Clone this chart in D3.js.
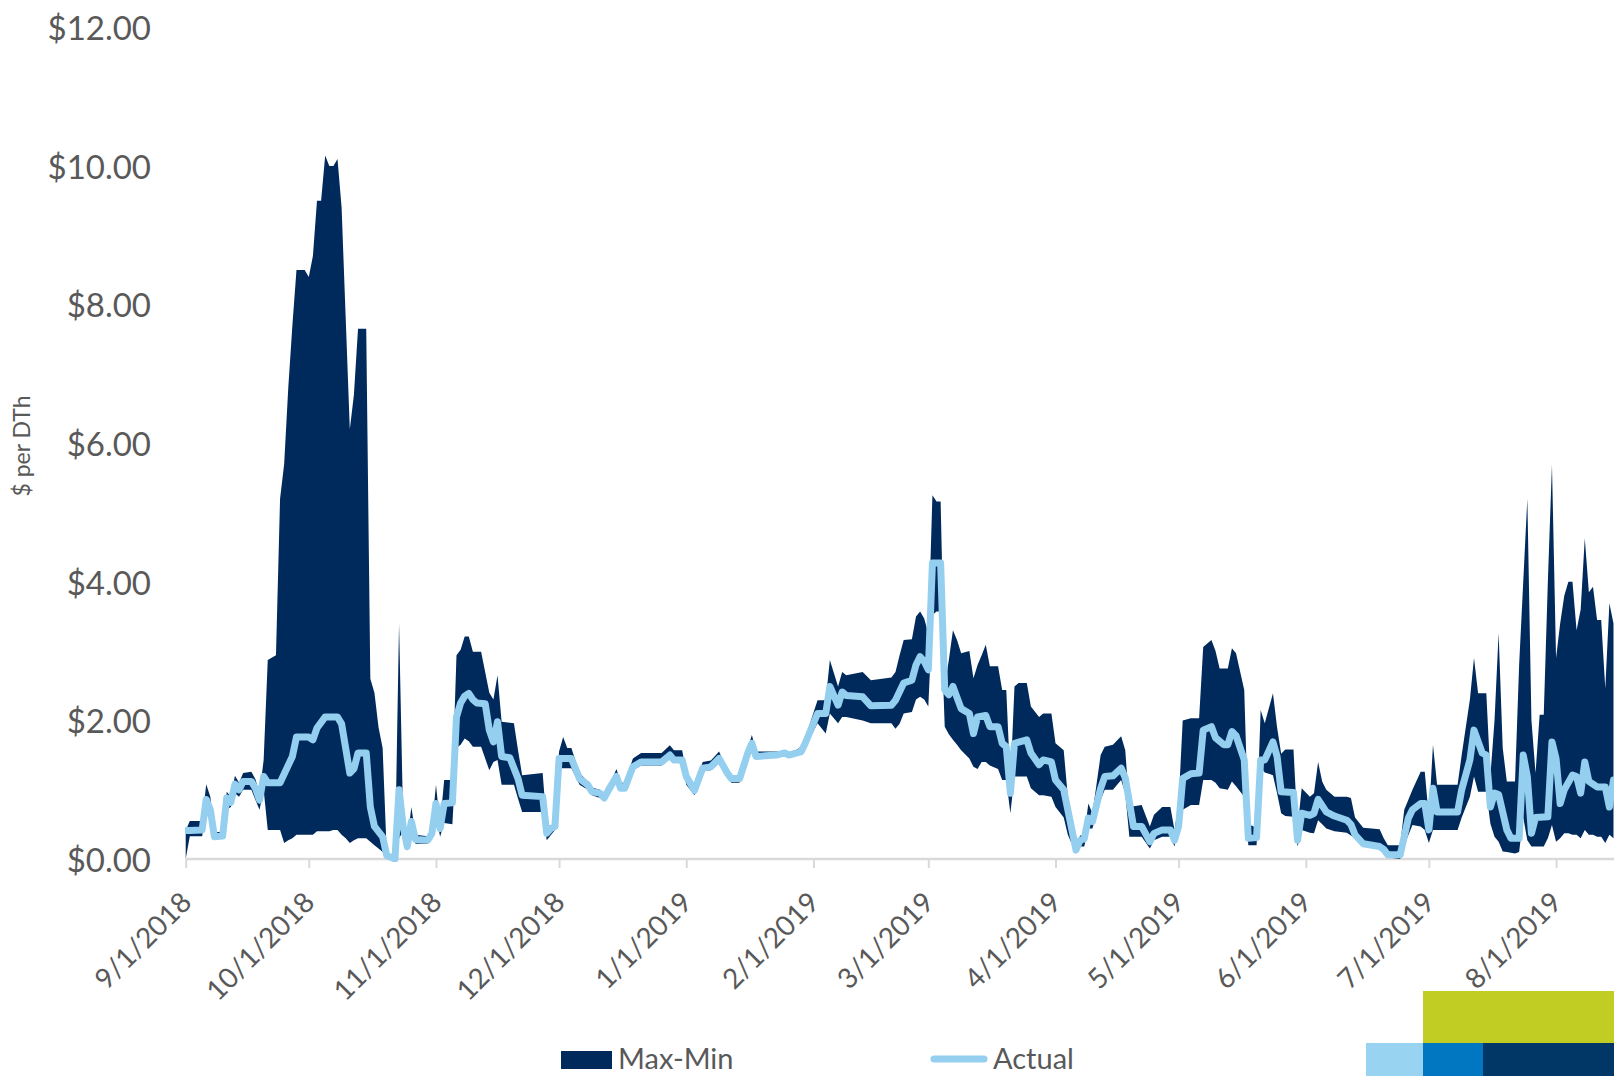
<!DOCTYPE html>
<html><head><meta charset="utf-8">
<script src="https://cdn.jsdelivr.net/npm/d3@7"></script>
<style>
body{margin:0;background:#fff;}
svg{display:block;}
text{font-family:Lato,"Open Sans",sans-serif;}
</style>
</head><body>
<svg id="chart" width="1614" height="1076"></svg>
<script>
// ---------- DATA ----------
const yTickValues = [0, 2, 4, 6, 8, 10, 12];
const xTickDates = ["2018-09-01","2018-10-01","2018-11-01","2018-12-01","2019-01-01","2019-02-01",
  "2019-03-01","2019-04-01","2019-05-01","2019-06-01","2019-07-01","2019-08-01"];
const seriesNames = ["Max-Min", "Actual"];

// Actual price ($ per DTh)
const actualDates = ["2018-09-01","2018-09-02","2018-09-05","2018-09-06","2018-09-07","2018-09-08","2018-09-10","2018-09-11","2018-09-12","2018-09-13","2018-09-14","2018-09-15","2018-09-17","2018-09-18","2018-09-19","2018-09-20","2018-09-21","2018-09-24","2018-09-27","2018-09-28",
"2018-10-01","2018-10-02","2018-10-03","2018-10-05","2018-10-08","2018-10-09","2018-10-11","2018-10-12","2018-10-13","2018-10-15","2018-10-16","2018-10-17","2018-10-19","2018-10-20","2018-10-22","2018-10-23","2018-10-24","2018-10-25","2018-10-26","2018-10-27","2018-10-30","2018-10-31",
"2018-11-01","2018-11-02","2018-11-03","2018-11-05","2018-11-06","2018-11-07","2018-11-08","2018-11-09","2018-11-10","2018-11-11","2018-11-13","2018-11-14","2018-11-15","2018-11-16","2018-11-17","2018-11-19","2018-11-21","2018-11-22","2018-11-27","2018-11-28","2018-11-29","2018-11-30",
"2018-12-01","2018-12-04","2018-12-06","2018-12-08","2018-12-09","2018-12-11","2018-12-12","2018-12-13","2018-12-15","2018-12-16","2018-12-17","2018-12-19","2018-12-21","2018-12-26","2018-12-28","2018-12-29","2018-12-31",
"2019-01-01","2019-01-03","2019-01-05","2019-01-07","2019-01-09","2019-01-11","2019-01-12","2019-01-14","2019-01-16","2019-01-17","2019-01-18","2019-01-23","2019-01-25","2019-01-26","2019-01-28","2019-01-29","2019-01-30",
"2019-02-02","2019-02-04","2019-02-05","2019-02-07","2019-02-08","2019-02-09","2019-02-13","2019-02-15","2019-02-20","2019-02-21","2019-02-23","2019-02-25","2019-02-26","2019-02-27","2019-02-28",
"2019-03-01","2019-03-02","2019-03-04","2019-03-05","2019-03-06","2019-03-07","2019-03-09","2019-03-11","2019-03-12","2019-03-13","2019-03-15","2019-03-16","2019-03-18","2019-03-19","2019-03-20","2019-03-21","2019-03-22","2019-03-25","2019-03-26","2019-03-28","2019-03-29","2019-03-31",
"2019-04-01","2019-04-03","2019-04-06","2019-04-07","2019-04-08","2019-04-09","2019-04-10","2019-04-12","2019-04-13","2019-04-15","2019-04-17","2019-04-18","2019-04-20","2019-04-22","2019-04-24","2019-04-25","2019-04-27","2019-04-29","2019-04-30",
"2019-05-01","2019-05-02","2019-05-04","2019-05-06","2019-05-07","2019-05-09","2019-05-10","2019-05-12","2019-05-13","2019-05-14","2019-05-15","2019-05-17","2019-05-18","2019-05-20","2019-05-21","2019-05-22","2019-05-24","2019-05-25","2019-05-26","2019-05-29","2019-05-30","2019-05-31",
"2019-06-02","2019-06-03","2019-06-04","2019-06-06","2019-06-08","2019-06-11","2019-06-12","2019-06-13","2019-06-15","2019-06-19","2019-06-20","2019-06-21","2019-06-24","2019-06-26","2019-06-27","2019-06-29","2019-06-30",
"2019-07-01","2019-07-02","2019-07-03","2019-07-08","2019-07-09","2019-07-11","2019-07-12","2019-07-14","2019-07-15","2019-07-16","2019-07-17","2019-07-18","2019-07-20","2019-07-21","2019-07-23","2019-07-24","2019-07-25","2019-07-26","2019-07-27","2019-07-30","2019-07-31",
"2019-08-01","2019-08-02","2019-08-03","2019-08-05","2019-08-06","2019-08-07","2019-08-08","2019-08-09","2019-08-11","2019-08-13","2019-08-14","2019-08-15"];
const actualValues = [0.41,0.41,0.42,0.86,0.71,0.32,0.33,0.88,0.82,1.08,1.0,1.12,1.12,1.02,0.85,1.19,1.1,1.1,1.48,1.76,
1.76,1.72,1.89,2.05,2.05,1.95,1.24,1.3,1.53,1.53,0.75,0.47,0.32,0.05,0.0,1.0,0.47,0.18,0.54,0.28,0.27,0.37,
0.8,0.44,0.8,0.81,2.05,2.25,2.35,2.39,2.3,2.25,2.24,1.86,1.69,1.98,1.48,1.46,1.16,0.92,0.9,0.37,0.44,0.47,
1.45,1.45,1.16,1.07,0.97,0.95,0.88,0.99,1.19,1.02,1.02,1.33,1.4,1.4,1.5,1.43,1.43,
1.19,0.99,1.31,1.33,1.45,1.24,1.16,1.16,1.53,1.67,1.48,1.5,1.53,1.5,1.53,1.55,1.67,
2.1,2.1,2.49,2.22,2.41,2.36,2.34,2.21,2.22,2.29,2.54,2.58,2.8,2.92,2.85,
2.73,4.27,4.27,2.44,2.37,2.49,2.17,2.1,1.81,2.05,2.07,1.91,1.91,1.67,1.62,0.95,1.67,1.72,1.53,1.36,1.43,1.4,
1.14,1.0,0.13,0.27,0.29,0.59,0.54,1.02,1.19,1.2,1.31,1.17,0.47,0.47,0.25,0.37,0.42,0.42,0.27,
0.47,1.16,1.23,1.24,1.86,1.91,1.75,1.65,1.65,1.84,1.78,1.43,0.3,0.31,1.43,1.43,1.69,1.48,0.97,0.96,0.27,0.66,
0.63,0.66,0.86,0.68,0.62,0.56,0.5,0.35,0.22,0.18,0.14,0.06,0.06,0.59,0.71,0.8,0.8,
0.42,1.02,0.68,0.68,1.0,1.43,1.86,1.53,1.5,0.75,0.95,0.93,0.42,0.3,0.3,1.5,1.19,0.37,0.6,0.61,1.69,
1.45,0.8,1.0,1.21,1.19,0.95,1.4,1.12,1.04,1.04,0.75,1.14];

// Max-Min range ($ per DTh)
const rangeDates = ["2018-09-01","2018-09-02","2018-09-05","2018-09-06","2018-09-07","2018-09-08","2018-09-10","2018-09-11","2018-09-12","2018-09-13","2018-09-14","2018-09-15","2018-09-17","2018-09-18","2018-09-19","2018-09-20","2018-09-21","2018-09-23","2018-09-24","2018-09-25","2018-09-26","2018-09-27","2018-09-28","2018-09-30",
"2018-10-01","2018-10-02","2018-10-03","2018-10-04","2018-10-05","2018-10-06","2018-10-07","2018-10-08","2018-10-09","2018-10-10","2018-10-11","2018-10-12","2018-10-13","2018-10-15","2018-10-16","2018-10-17","2018-10-18","2018-10-19","2018-10-20","2018-10-22","2018-10-23","2018-10-24","2018-10-25","2018-10-26","2018-10-27","2018-10-30","2018-10-31",
"2018-11-01","2018-11-02","2018-11-03","2018-11-05","2018-11-06","2018-11-07","2018-11-08","2018-11-09","2018-11-10","2018-11-12","2018-11-14","2018-11-15","2018-11-16","2018-11-17","2018-11-20","2018-11-21","2018-11-22","2018-11-27","2018-11-28","2018-11-30",
"2018-12-01","2018-12-02","2018-12-03","2018-12-04","2018-12-06","2018-12-08","2018-12-09","2018-12-11","2018-12-12","2018-12-13","2018-12-15","2018-12-16","2018-12-17","2018-12-19","2018-12-21","2018-12-26","2018-12-28","2018-12-29","2018-12-31",
"2019-01-01","2019-01-03","2019-01-05","2019-01-07","2019-01-09","2019-01-11","2019-01-12","2019-01-14","2019-01-16","2019-01-17","2019-01-18","2019-01-23","2019-01-25","2019-01-26","2019-01-28","2019-01-29","2019-01-30",
"2019-02-02","2019-02-04","2019-02-05","2019-02-07","2019-02-08","2019-02-09","2019-02-13","2019-02-15","2019-02-20","2019-02-21","2019-02-22","2019-02-23","2019-02-25","2019-02-26","2019-02-27","2019-02-28",
"2019-03-01","2019-03-02","2019-03-03","2019-03-04","2019-03-05","2019-03-06","2019-03-07","2019-03-08","2019-03-09","2019-03-11","2019-03-12","2019-03-13","2019-03-14","2019-03-15","2019-03-16","2019-03-18","2019-03-19","2019-03-20","2019-03-21","2019-03-22","2019-03-23","2019-03-25","2019-03-26","2019-03-28","2019-03-29","2019-03-31",
"2019-04-01","2019-04-03","2019-04-04","2019-04-06","2019-04-07","2019-04-08","2019-04-09","2019-04-10","2019-04-12","2019-04-13","2019-04-15","2019-04-17","2019-04-18","2019-04-19","2019-04-22","2019-04-24","2019-04-25","2019-04-27","2019-04-29","2019-04-30",
"2019-05-01","2019-05-02","2019-05-04","2019-05-06","2019-05-07","2019-05-09","2019-05-10","2019-05-11","2019-05-13","2019-05-14","2019-05-15","2019-05-17","2019-05-18","2019-05-20","2019-05-21","2019-05-22","2019-05-24","2019-05-25","2019-05-26","2019-05-27","2019-05-29","2019-05-30","2019-05-31",
"2019-06-02","2019-06-03","2019-06-04","2019-06-05","2019-06-06","2019-06-08","2019-06-11","2019-06-12","2019-06-13","2019-06-15","2019-06-19","2019-06-20","2019-06-21","2019-06-24","2019-06-25","2019-06-27","2019-06-29","2019-06-30",
"2019-07-01","2019-07-02","2019-07-03","2019-07-08","2019-07-09","2019-07-11","2019-07-12","2019-07-13","2019-07-15","2019-07-16","2019-07-17","2019-07-18","2019-07-19","2019-07-20","2019-07-22","2019-07-23","2019-07-24","2019-07-25","2019-07-26","2019-07-27","2019-07-28","2019-07-29","2019-07-30","2019-07-31",
"2019-08-01","2019-08-02","2019-08-03","2019-08-04","2019-08-05","2019-08-06","2019-08-07","2019-08-08","2019-08-09","2019-08-10","2019-08-11","2019-08-12","2019-08-13","2019-08-14","2019-08-15"];
const maxValues = [0.41,0.55,0.55,1.08,0.9,0.39,0.39,0.97,0.9,1.2,1.1,1.24,1.26,1.15,0.95,1.43,2.87,2.94,5.2,5.7,6.8,7.7,8.5,8.5,
8.4,8.7,9.5,9.5,10.15,10.0,10.0,10.1,9.4,7.8,6.2,6.7,7.65,7.65,2.6,2.4,1.9,1.6,0.08,0.0,3.4,0.55,0.25,0.75,0.35,0.33,0.45,
1.07,0.5,1.14,1.14,2.94,3.02,3.21,3.21,2.99,2.99,2.4,2.3,2.65,1.98,1.96,1.57,1.21,1.24,0.48,0.5,
1.55,1.76,1.6,1.6,1.24,1.12,1.03,1.0,0.93,1.03,1.3,1.1,1.1,1.45,1.53,1.53,1.64,1.57,1.57,
1.25,1.05,1.4,1.42,1.55,1.28,1.2,1.2,1.6,1.79,1.55,1.55,1.56,1.54,1.58,1.62,1.75,
2.29,2.29,2.87,2.49,2.7,2.65,2.7,2.58,2.62,2.7,2.94,3.16,3.17,3.5,3.57,3.47,
3.25,5.25,5.16,5.16,2.49,2.87,3.3,3.16,2.97,3.0,2.61,2.8,2.94,3.09,2.78,2.78,2.44,2.44,1.1,2.49,2.54,2.54,2.2,2.05,2.1,2.1,
1.67,1.57,0.9,0.2,0.34,0.34,0.8,0.66,1.5,1.62,1.65,1.77,1.57,0.75,0.78,0.47,0.64,0.75,0.75,0.42,
0.8,2.0,2.03,2.03,3.06,3.16,3.0,2.75,2.75,3.04,2.97,2.44,0.5,0.45,2.15,1.96,2.39,1.9,1.52,1.58,1.58,0.45,1.02,
0.9,0.95,1.4,1.12,1.0,0.9,0.9,0.88,0.6,0.45,0.43,0.3,0.2,0.2,0.71,1.0,1.26,1.26,
0.6,1.65,1.07,1.07,1.5,2.3,2.9,2.39,2.39,1.2,2.0,3.26,1.6,1.12,1.12,2.8,4.0,5.2,2.0,1.24,2.08,2.08,4.0,5.69,
2.9,3.4,3.8,4.0,4.0,3.3,3.6,4.63,3.85,3.93,3.45,3.45,2.46,3.69,3.4];
const minValues = [0.0,0.33,0.33,0.66,0.55,0.29,0.29,0.71,0.75,0.95,0.9,1.0,1.0,0.85,0.71,1.0,0.42,0.42,0.42,0.23,0.27,0.3,0.35,0.35,
0.35,0.35,0.4,0.4,0.4,0.4,0.42,0.42,0.35,0.3,0.23,0.27,0.3,0.3,0.25,0.2,0.15,0.1,0.02,0.0,0.3,0.4,0.12,0.45,0.22,0.22,0.3,
0.65,0.32,0.52,0.5,1.6,1.65,1.74,1.7,1.62,1.62,1.28,1.4,1.43,1.07,1.07,0.87,0.68,0.68,0.27,0.42,
1.31,1.31,1.31,1.31,1.07,1.0,0.92,0.88,0.84,0.95,1.1,0.98,0.98,1.28,1.35,1.35,1.45,1.4,1.4,
1.07,0.92,1.27,1.28,1.38,1.18,1.1,1.1,1.5,1.6,1.45,1.47,1.5,1.47,1.5,1.5,1.6,
1.96,1.81,2.1,1.96,2.05,2.05,2.0,1.96,1.96,1.88,1.95,2.1,2.12,2.3,2.34,2.3,
2.2,3.52,3.57,3.57,1.91,1.8,1.72,1.65,1.57,1.45,1.33,1.3,1.4,1.4,1.35,1.3,1.14,1.14,0.66,1.19,1.19,1.19,1.02,0.92,0.92,0.9,
0.75,0.6,0.35,0.08,0.18,0.18,0.44,0.44,0.85,1.0,1.0,1.14,0.95,0.32,0.32,0.15,0.27,0.32,0.32,0.18,
0.5,0.71,0.78,0.78,1.14,1.14,1.1,1.02,1.0,1.12,1.05,0.9,0.2,0.2,1.33,1.25,1.21,0.95,0.66,0.62,0.61,0.18,0.42,
0.38,0.37,0.56,0.5,0.44,0.4,0.38,0.34,0.3,0.2,0.15,0.1,0.02,0.0,0.2,0.49,0.47,0.42,
0.23,0.42,0.42,0.42,0.6,0.9,1.19,0.97,0.97,0.51,0.32,0.25,0.11,0.1,0.08,0.1,0.6,0.27,0.18,0.18,0.18,0.18,0.3,0.49,
0.25,0.3,0.37,0.37,0.35,0.35,0.3,0.42,0.35,0.35,0.32,0.32,0.23,0.35,0.3];

// ---------- CHART ----------
const parse = d3.utcParse("%Y-%m-%d");
const svg = d3.select("#chart");
const W = 1614, H = 1076;
const NAVY = "#002A5C", LIGHT = "#94CFF0", GREY_TXT = "#595959", AXIS = "#D9D9D9";

const x = d3.scaleUtc()
  .domain([parse("2018-09-01"), parse("2019-08-15")])
  .range([185.7, 1613.5]);
const y = d3.scaleLinear().domain([0, 12]).range([859, 27.4]);

const band = rangeDates.map((d, i) => ({date: parse(d), max: maxValues[i], min: minValues[i]}));
const actual = actualDates.map((d, i) => ({date: parse(d), v: actualValues[i]}));

svg.append("defs").append("clipPath").attr("id", "plotClip")
  .append("rect").attr("x", 185).attr("y", 0).attr("width", W - 185).attr("height", 862);

// x axis
const xAxis = d3.axisBottom(x)
  .tickValues(xTickDates.map(parse))
  .tickFormat(d3.utcFormat("%-m/%-d/%Y"))
  .tickSizeInner(9).tickSizeOuter(0);
const gx = svg.append("g").attr("transform", "translate(0,859)").call(xAxis);
gx.select(".domain").attr("stroke", AXIS).attr("stroke-width", 2.5)
  .attr("d", `M${x.range()[0]},0H${W}`);
gx.selectAll(".tick line").attr("stroke", AXIS).attr("stroke-width", 2);
gx.selectAll(".tick text")
  .attr("fill", GREY_TXT).attr("font-size", 28).attr("font-family", "Lato")
  .attr("text-anchor", "end").attr("x", 0).attr("y", 0).attr("dy", 0)
  .attr("transform", "translate(7,45) rotate(-45)");

// y axis labels
const yAxis = d3.axisLeft(y).tickValues(yTickValues)
  .tickFormat(d => "$" + d3.format(".2f")(d)).tickSize(0).tickPadding(0);
const gy = svg.append("g").attr("transform", "translate(151,0)").call(yAxis);
gy.select(".domain").remove();
gy.selectAll(".tick text").attr("fill", GREY_TXT).attr("font-size", 33)
  .attr("font-family", "Lato").attr("dy", "0.37em");

svg.append("text")
  .attr("transform", "translate(30,446) rotate(-90)")
  .attr("text-anchor", "middle").attr("fill", GREY_TXT).attr("font-size", 23)
  .text("$ per DTh");

const plot = svg.append("g").attr("clip-path", "url(#plotClip)");

// Max-Min band
plot.append("path").datum(band)
  .attr("fill", NAVY)
  .attr("d", d3.area().x(d => x(d.date)).y0(d => y(d.min)).y1(d => y(d.max)));

// Actual line
plot.append("path").datum(actual)
  .attr("fill", "none").attr("stroke", LIGHT).attr("stroke-width", 7)
  .attr("stroke-linejoin", "round").attr("stroke-linecap", "round")
  .attr("d", d3.line().x(d => x(d.date)).y(d => y(d.v)));

// legend
const lg = svg.append("g");
lg.append("rect").attr("x", 561).attr("y", 1051).attr("width", 51).attr("height", 18).attr("fill", NAVY);
lg.append("text").attr("x", 618).attr("y", 1069).attr("fill", GREY_TXT).attr("font-size", 29).text(seriesNames[0]);
lg.append("line").attr("x1", 934).attr("x2", 984).attr("y1", 1059).attr("y2", 1059)
  .attr("stroke", LIGHT).attr("stroke-width", 7).attr("stroke-linecap", "round");
lg.append("text").attr("x", 993).attr("y", 1069).attr("fill", GREY_TXT).attr("font-size", 29).text(seriesNames[1]);

// corner brand blocks
const deco = svg.append("g");
deco.append("rect").attr("x", 1423).attr("y", 991).attr("width", W - 1423).attr("height", 52).attr("fill", "#C1CD23");
deco.append("rect").attr("x", 1366).attr("y", 1043).attr("width", 57).attr("height", 33).attr("fill", "#99D3F2");
deco.append("rect").attr("x", 1423).attr("y", 1043).attr("width", 60).attr("height", 33).attr("fill", "#0077C0");
deco.append("rect").attr("x", 1483).attr("y", 1043).attr("width", W - 1483).attr("height", 33).attr("fill", "#003767");
</script>
</body></html>
